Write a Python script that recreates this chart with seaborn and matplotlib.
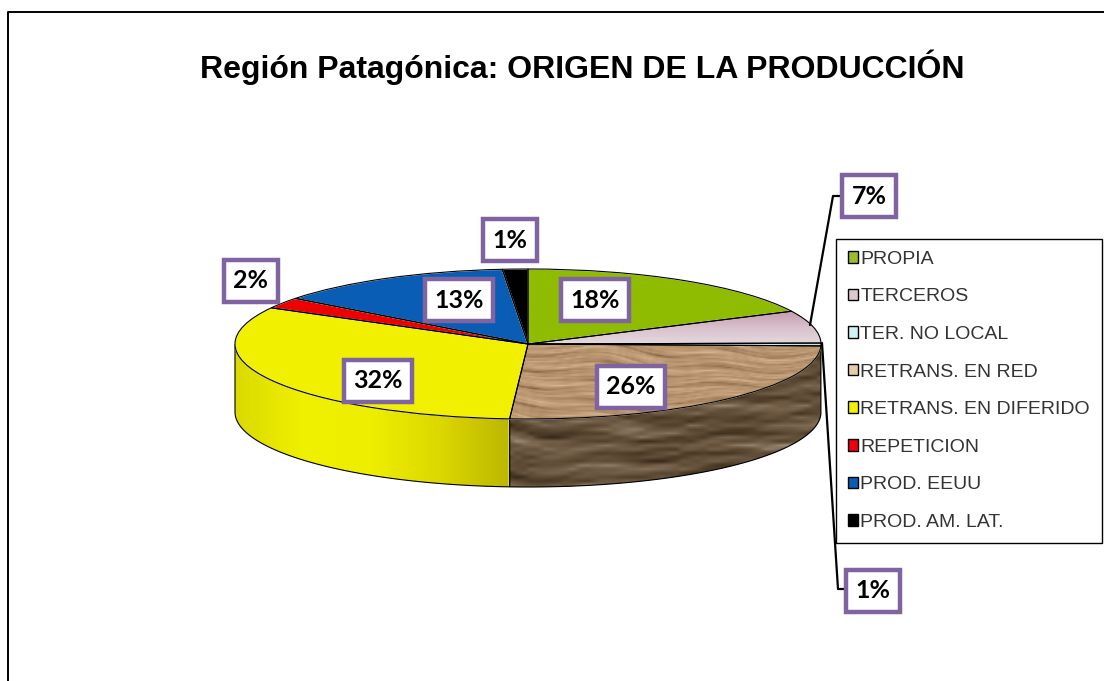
import numpy as np
import matplotlib
matplotlib.use("Agg")
import matplotlib.pyplot as plt
from matplotlib.patches import Patch, Polygon
import seaborn as sns

title = "Región Patagónica: ORIGEN DE LA PRODUCCIÓN"
categories = ["PROPIA", "TERCEROS", "TER. NO LOCAL", "RETRANS. EN RED",
              "RETRANS. EN DIFERIDO", "REPETICION", "PROD. EEUU", "PROD. AM. LAT."]
shares = [17.8, 7.0, 0.6, 25.6, 32.0, 2.4, 13.2, 1.4]
colors = ["#8FBC00", "#DCC6D0", "#BFE8E6", "#B08A62", "#F0F000", "#EE0000", "#0A5DB5", "#000000"]
legend_colors = ["#9BBB2A", "#DCC8D0", "#CFF3F3", "#E8CBA8", "#F2F200", "#EE0010", "#0A5DB5", "#000000"]

# pie geometry in pixels of the picture
CX, CY, RX, RY, DEPTH = 528, 344, 293, 75, 68
W, H = 1104, 681

sns.set_theme(style="white")
plt.rcParams['font.family'] = ['Liberation Sans', 'DejaVu Sans']

fig = plt.figure(figsize=(W / 100, H / 100), dpi=100)
ax = fig.add_axes([0, 0, 1, 1])


def to_data(px, py):
    return (px - CX) / RX, (CY - py) / RY


xlim = (to_data(0, 0)[0], to_data(W, 0)[0])
ylim = (to_data(0, H)[1], to_data(0, 0)[1])
d = DEPTH / RY

# side wall, front half only
edges = np.cumsum([0] + shares) * 3.6


def wall(a, b):
    a, b = max(a, 90), min(b, 270)
    t = np.radians(np.linspace(a, b, 120))
    xs = np.sin(t)
    ys = np.cos(t)
    return np.column_stack([np.r_[xs, xs[::-1]], np.r_[ys, ys[::-1] - d]])


# irregular wood grain, only decoration for the brown slice
def grain(px, py, fy):
    bend = py + 6 * np.sin(0.017 * px + 0.03 * py) + 3 * np.sin(0.053 * px + 1.1) - 0.03 * px
    v = (np.sin(fy * bend) * (0.55 + 0.45 * np.sin(0.041 * px + 0.37 * py))
         + 0.7 * np.sin(2.3 * fy * bend + 1.7) * np.sin(0.067 * px - 0.21 * py + 0.5)
         + 0.5 * np.sin(0.47 * fy * bend + 0.9) * np.sin(0.029 * px + 2.0)
         + 0.3 * np.sin(5.1 * fy * bend) * np.sin(0.11 * px + 0.7 * py))
    return (v - v.min()) / (v.max() - v.min())


wood_top = sns.blend_palette(["#7E6044", "#A98660", "#C4A07A", "#DDBE9C"], as_cmap=True)
wood_side = sns.blend_palette(["#33261A", "#54412C", "#75614A", "#A09080"], as_cmap=True)
side_yellow = sns.blend_palette(["#DADA00", "#F0F000", "#EEEE00", "#DCD800", "#BDB800"], as_cmap=True)
pink = sns.blend_palette(["#E4D8DE", "#D8C0CC", "#C49AAC"], as_cmap=True)

brown_wall = Polygon(wall(edges[3], edges[4]), closed=True, fc="#5A4630", ec="none", zorder=1)
ax.add_patch(brown_wall)
yellow_wall = Polygon(wall(edges[4], edges[5]), closed=True, fc="#E0E000", ec="none", zorder=1)
ax.add_patch(yellow_wall)

py, px = np.mgrid[340:495:4, 500:825:7]
im = ax.imshow(grain(px, py, 0.3), extent=(to_data(500, 0)[0], to_data(825, 0)[0], to_data(0, 495)[1], to_data(0, 340)[1]),
               cmap=wood_side, aspect="auto", interpolation="bilinear", zorder=1.2)
im.set_clip_path(brown_wall)
im = ax.imshow(np.linspace(0, 1, 200)[None, :], extent=(-1, to_data(508, 0)[0], -1 - d, 0.1), cmap=side_yellow,
               aspect="auto", zorder=1.2)
im.set_clip_path(yellow_wall)
ax.add_patch(Polygon(wall(edges[3], edges[4]), closed=True, fill=False, ec="black", lw=0.8, zorder=1.3))
ax.add_patch(Polygon(wall(edges[4], edges[5]), closed=True, fill=False, ec="black", lw=0.8, zorder=1.3))

# top of the pie
wedges, _ = ax.pie(shares, colors=colors, startangle=90, counterclock=False, radius=1, center=(0, 0),
                   wedgeprops=dict(zorder=2))
py, px = np.mgrid[340:425:1.5, 500:825:3]
im = ax.imshow(grain(px, py, 0.75), extent=(to_data(500, 0)[0], to_data(825, 0)[0], to_data(0, 425)[1], to_data(0, 340)[1]),
               cmap=wood_top, aspect="auto", interpolation="bilinear", zorder=2.1)
im.set_clip_path(wedges[3])
im = ax.imshow(np.linspace(0, 1, 60)[:, None], extent=(0, 1, 0, 0.45), cmap=pink, aspect="auto",
               origin="lower", zorder=2.1)
im.set_clip_path(wedges[1])
ax.pie(shares, colors=colors, startangle=90, counterclock=False, radius=1, center=(0, 0),
       wedgeprops=dict(fill=False, edgecolor="black", linewidth=0.8, zorder=2.2))

ax.set_aspect("auto")
ax.set_xlim(*xlim)
ax.set_ylim(*ylim)
ax.axis("off")

# picture frame
ax.plot(*np.array([to_data(8, H), to_data(8, 12), to_data(W, 12)]).T, color="black", lw=1.4, zorder=0.5)

# leaders
ax.plot(*np.array([to_data(845, 196), to_data(833, 196), to_data(810, 325)]).T, color="black", lw=1.6, zorder=3)
ax.plot(*np.array([to_data(848, 589), to_data(838, 589), to_data(822, 343)]).T, color="black", lw=1.6, zorder=3)

# percent labels
label_pos = [(595, 300), (869, 196), (873, 591), (631, 387), (378, 381), (251, 281), (459, 300), (510, 240)]
for share, (lx, ly) in zip(shares, label_pos):
    ax.text(*to_data(lx, ly), f"{round(share)}%", ha="center", va="center", family="Lato", weight="bold",
            fontsize=18, color="black", zorder=6,
            bbox=dict(boxstyle="square,pad=0.38", fc="white", ec="#8064A2", lw=3.2))

ax.text(*to_data(582, 67), title, ha="center", va="center", fontsize=23.0, weight="bold", color="black")

handles = [Patch(fc=c, ec="black", lw=1.0) for c in legend_colors]
leg = ax.legend(handles, categories, loc="upper left", bbox_to_anchor=(836 / W, 1 - 239 / H), bbox_transform=fig.transFigure,
                borderaxespad=0, fontsize=14, labelspacing=1.06, handlelength=0.55, handleheight=0.55,
                handletextpad=0.1, borderpad=0.6, frameon=True, fancybox=False, framealpha=1,
                edgecolor="black", facecolor="white", labelcolor="#333333")
leg.get_frame().set_linewidth(1.0)
leg.set_zorder(4)

fig.savefig("out.png", dpi=100)
